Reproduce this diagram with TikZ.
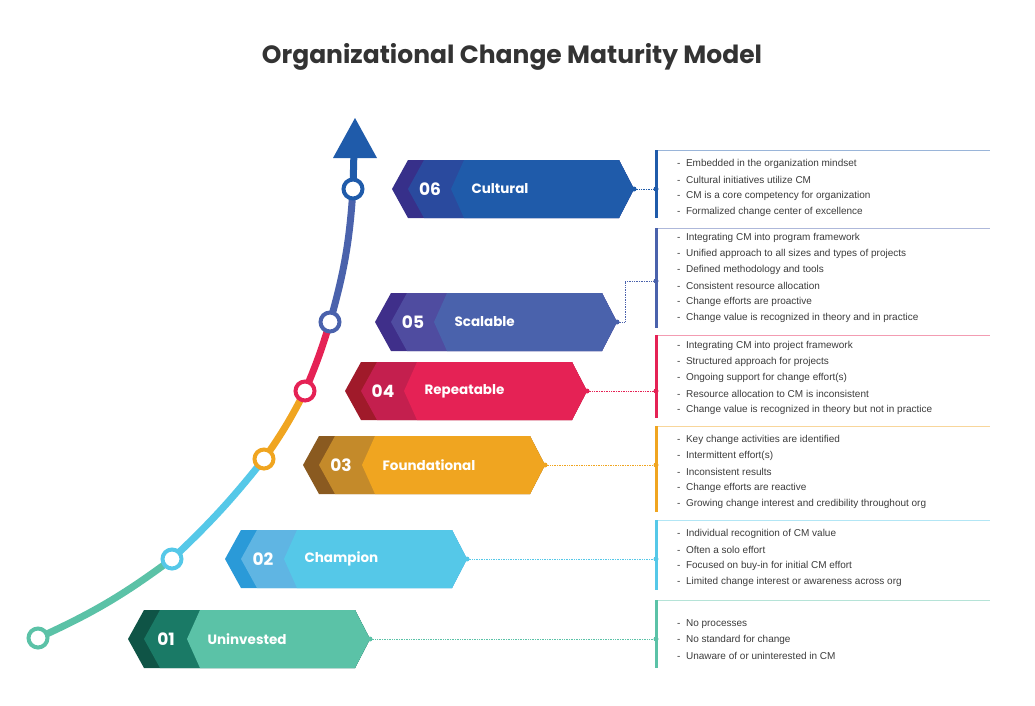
\documentclass[tikz,border=0pt]{standalone}
\usepackage{fontspec}
\setmainfont{Liberation Sans}
\newfontfamily\headfont{Poppins}
\usetikzlibrary{positioning}
\definecolor{titlegrey}{RGB}{51,51,51}
\definecolor{listgrey}{RGB}{60,60,60}
\definecolor{greenA}{RGB}{91,194,167}\definecolor{greenB}{RGB}{26,122,102}\definecolor{greenC}{RGB}{15,84,70}
\definecolor{cyanA}{RGB}{85,200,232}\definecolor{cyanB}{RGB}{95,181,227}\definecolor{cyanC}{RGB}{42,154,216}
\definecolor{orangeA}{RGB}{240,165,32}\definecolor{orangeB}{RGB}{196,138,42}\definecolor{orangeC}{RGB}{138,90,32}
\definecolor{pinkA}{RGB}{229,34,85}\definecolor{pinkB}{RGB}{196,31,78}\definecolor{pinkC}{RGB}{160,26,42}
\definecolor{slateA}{RGB}{74,98,172}\definecolor{slateB}{RGB}{79,76,160}\definecolor{slateC}{RGB}{63,47,138}
\definecolor{blueA}{RGB}{31,91,170}\definecolor{blueB}{RGB}{42,74,158}\definecolor{blueC}{RGB}{55,48,138}
\tikzset{
	dot/.style={circle, draw=#1, fill=white, line width=4pt, minimum size=19pt, inner sep=0pt},
	pathseg/.style={line width=7pt, draw=#1},
}
% #1 name, #2 left tip x, #3 centre y, #4 colour base, #5 number, #6 label
\newcommand{\stage}[6]{%
	\fill[#4C] (#2,#3) -- ++(16,-29) -- ++(211,0) -- ++(15,29) -- ++(-15,29) -- ++(-211,0) -- cycle;
	\fill[#4B] (#2+16,#3) -- ++(16,-29) -- ++(195,0) -- ++(15,29) -- ++(-15,29) -- ++(-195,0) -- cycle;
	\fill[#4A] (#2+59,#3) -- ++(13,-29) -- ++(155,0) -- ++(15,29) -- ++(-15,29) -- ++(-155,0) -- cycle;
	\node[text=white, font=\headfont\fontsize{17}{17}\selectfont\bfseries] (num#1) at (#2+38,#3) {#5};
	\node[text=white, font=\headfont\fontsize{13.5}{14}\selectfont\bfseries, anchor=west] (lab#1) at (#2+76,#3) {#6};
	\coordinate (tip#1) at (#2+242,#3);
}
% #1 top y, #2 bottom y, #3 colour, #4 first line y, #5 lines
\newcommand{\facts}[5]{%
	\draw[#3!45, line width=0.6pt] (655,#1) -- (990,#1);
	\draw[#3, line width=3pt] (656,#1) -- (656,#2);
	\foreach \txt [count=\i from 0] in {#5}
		\node[anchor=west, text=listgrey, font=\fontsize{10}{10}\selectfont, inner sep=0pt] at (677,#4+16*\i) {-\hspace{5.5pt}\txt};
}
\begin{document}
\begin{tikzpicture}[x=1pt, y=-1pt]
	\useasboundingbox (0,0) rectangle (1035,705);

	\node[font=\headfont\fontsize{25}{25}\selectfont\bfseries, text=titlegrey] (title) at (512,57) {Organizational Change Maturity Model};

	% stages
	\stage{1}{128}{639}{green}{01}{Uninvested}
	\stage{2}{225}{559}{cyan}{02}{Champion}
	\stage{3}{303}{465}{orange}{03}{Foundational}
	\stage{4}{345}{391}{pink}{04}{Repeatable}
	\stage{5}{375}{322}{slate}{05}{Scalable}
	\stage{6}{392}{189}{blue}{06}{Cultural}

	% lists
	\facts{150}{218}{blueA}{164}{Embedded in the organization mindset, Cultural initiatives utilize CM, CM is a core competency for organization, Formalized change center of excellence}
	\facts{228}{328}{slateA}{238}{Integrating CM into program framework, Unified approach to all sizes and types of projects, Defined methodology and tools, Consistent resource allocation, Change efforts are proactive, Change value is recognized in theory and in practice}
	\facts{335}{418}{pinkA}{346}{Integrating CM into project framework, Structured approach for projects, Ongoing support for change effort(s), Resource allocation to CM is inconsistent, Change value is recognized in theory but not in practice}
	\facts{426}{512}{orangeA}{440}{Key change activities are identified, Intermittent effort(s), Inconsistent results, Change efforts are reactive, Growing change interest and credibility throughout org}
	\facts{520}{590}{cyanA}{534}{Individual recognition of CM value, Often a solo effort, Focused on buy-in for initial CM effort, Limited change interest or awareness across org}
	\facts{600}{668}{greenA}{624}{No processes, No standard for change, Unaware of or uninterested in CM}

	% connectors
	\coordinate (in1) at (656,639); \coordinate (in2) at (656,559);
	\coordinate (in3) at (656,465); \coordinate (in4) at (656,391);
	\coordinate (in5) at (656,281); \coordinate (in6) at (656,189);
	\foreach \n/\c in {1/greenA, 2/cyanA, 3/orangeA, 4/pinkA, 6/blueA}
		\draw[\c, densely dotted, line width=0.7pt] (tip\n) -- (in\n);
	\draw[slateA, densely dotted, line width=0.7pt] (tip5) -| (625,281) -- (in5);
	\foreach \n/\c in {1/greenA, 2/cyanA, 3/orangeA, 4/pinkA, 5/slateA, 6/blueA}
		\fill[\c] (tip\n) circle (2.5pt) (in\n) circle (2.5pt);

	% growth curve
	\coordinate (p1) at (38,638); \coordinate (p2) at (172,559);
	\coordinate (p3) at (264,459); \coordinate (p4) at (305,391);
	\coordinate (p5) at (330,322); \coordinate (p6) at (353,189);
	\draw[pathseg=greenA] (p1) to[bend right=6] (p2);
	\draw[pathseg=cyanA] (p2) to[bend right=4] (p3);
	\draw[pathseg=orangeA] (p3) to[bend right=4] (p4);
	\draw[pathseg=pinkA] (p4) to[bend right=3] (p5);
	\draw[pathseg=slateA] (p5) to[bend right=6] (p6);
	\draw[pathseg=blueA] (p6) -- (354,150);
	\fill[blueA] (333,158) -- (377,158) -- (355,118) -- cycle;
	\node[dot=greenA] (d1) at (p1) {};
	\node[dot=cyanA] (d2) at (p2) {};
	\node[dot=orangeA] (d3) at (p3) {};
	\node[dot=pinkA] (d4) at (p4) {};
	\node[dot=slateA] (d5) at (p5) {};
	\node[dot=blueA] (d6) at (p6) {};
\end{tikzpicture}
\end{document}
